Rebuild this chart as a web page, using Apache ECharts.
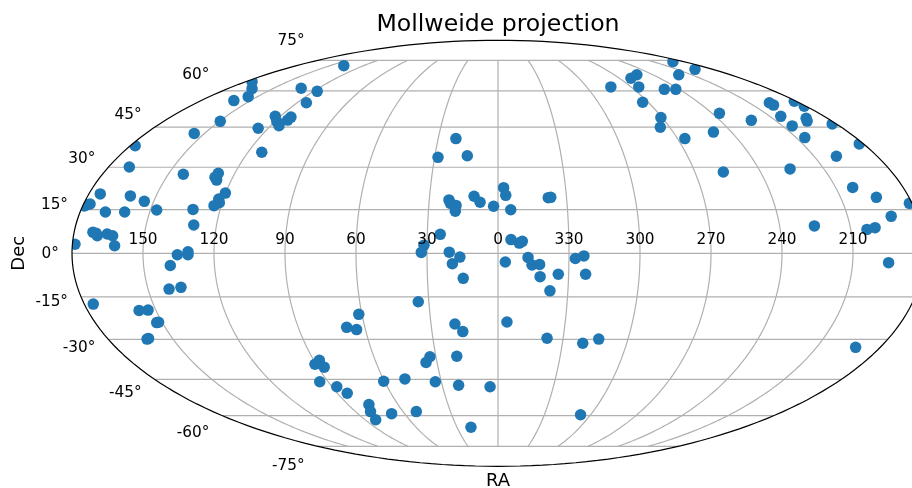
<!DOCTYPE html>
<html><head><meta charset="utf-8">
<style>html,body{margin:0;padding:0;background:#fff}#c{width:912px;height:488px}</style>
<script src="https://cdn.jsdelivr.net/npm/echarts@6/dist/echarts.min.js"></script>
</head><body><div id="c"></div>
<script>
const raDeg=[137.7,131.6,117.6,114.5,175.5,163.8,155.8,160.1,149.5,155.3,177.6,170.4,143.2,127.5,126.6,128.0,
113.4,125.2,122.9,118.9,115.6,113.9,113.8,175.0,161.3,154.1,178.4,177.2,169.1,160.8,147.3,131.7,
129.7,120.1,122.0,121.2,123.1,172.0,169.9,170.6,165.8,163.4,162.1,178.9,135.5,131.0,131.0,138.7,
135.7,141.0,176.1,157.4,153.4,152.5,151.6,162.0,161.1,34.6,61.4,68.2,64.0,19.3,16.0,356.0,337.4,
320.5,313.5,87.3,90.6,86.9,32.9,35.4,19.9,94.4,87.4,84.5,60.4,48.7,33.2,21.2,4.3,77.5,80.5,82.8,68.3,
51.6,306.5,19.8,21.1,28.4,14.6,357.5,356.6,21.4,20.7,18.2,18.4,10.5,7.8,1.9,354.5,338.0,336.9,24.5,
31.3,32.4,20.6,16.1,19.3,14.8,354.5,351.0,349.7,356.9,347.3,345.6,342.4,342.1,334.4,337.7,327.3,
323.7,322.8,191.0,194.8,219.9,252.4,261.4,264.7,283.6,249.9,242.3,273.3,270.7,274.9,266.3,249.3,
235.9,223.0,197.9,197.9,181.3,181.2,204.0,191.7,193.4,204.9,205.6,182.2,182.1,199.4,257.0,225.6,
202.4,194.3,181.2,179.3,191.3,225.2,203.1,199.5,194.8,191.6];
const decDeg=[72.1,61.2,59.8,54.9,64.2,61.0,57.5,55.8,47.3,42.6,37.9,30.1,27.5,27.8,25.4,26.4,35.5,44.6,49.3,
47.2,45.6,47.8,49.0,20.5,19.8,17.9,16.7,17.0,14.2,14.2,14.9,15.1,9.7,20.8,18.7,17.4,16.4,7.2,6.0,6.9,
6.6,6.0,2.6,3.1,-0.5,0.5,-0.5,-4.2,-11.7,-12.3,-17.5,-19.7,-19.6,-24.0,-23.9,-29.9,-29.7,-16.7,-21.1,
-25.7,-26.5,-24.5,-27.2,-23.8,-29.6,-31.4,-29.9,-37.7,-39.2,-40.3,-36.4,-38.5,-36.2,-45.9,-47.9,
-50.5,-45.7,-44.8,-45.9,-47.3,-47.9,-55.2,-58.2,-61.8,-59.1,-58.2,-59.6,-65.3,40.6,33.6,34.2,22.7,
20.0,18.4,17.2,16.5,14.5,19.7,17.6,16.2,15.0,19.2,19.3,6.5,2.8,0.3,0.4,-1.3,-3.6,-8.6,4.7,3.5,4.1,
-3.0,-1.4,-4.0,-3.8,-8.0,-7.2,-12.9,-1.8,-0.9,-7.2,74.2,70.2,67.5,67.5,65.8,61.8,61.8,60.7,60.7,55.1,
48.8,45.0,40.6,43.1,50.5,47.7,54.9,53.9,55.5,53.4,49.3,48.5,47.4,45.5,41.0,46.3,38.6,34.0,28.3,29.4,
22.8,19.3,17.2,16.3,12.7,9.4,8.2,8.8,-3.2,-32.9];
const raTicks=[150,120,90,60,30,0,330,300,270,240,210];
const decTicks=[75,60,45,30,15,0,-15,-30,-45,-60,-75];

const R2=Math.SQRT2;
function theta(dec){
  const p=dec*Math.PI/180;
  if(Math.abs(dec)>=90)return p;
  let t=p;
  for(let i=0;i<50;i++){t-=(2*t+Math.sin(2*t)-Math.PI*Math.sin(p))/(2+2*Math.cos(2*t));}
  return t;
}
function project(ra,dec){
  const lon=ra>180?ra-360:ra,t=theta(dec);
  return [-lon/180*2*R2*Math.cos(t),R2*Math.sin(t)];
}
const gridColor='#b0b0b0',font='"DejaVu Sans"';
function curve(fn){const o=[];for(let i=0;i<=240;i++)o.push(fn(i/240));return o;}
const lineBase={type:'line',symbol:'none',silent:true,animation:false,z:1,lineStyle:{color:gridColor,width:1.2}};
const series=[];
raTicks.forEach(r=>series.push(Object.assign({},lineBase,{data:curve(u=>project(r,-75+150*u))})));
decTicks.forEach(d=>series.push(Object.assign({},lineBase,{data:curve(u=>project(180-360*u,d))})));
series.push({type:'scatter',z:2,animation:false,silent:true,symbolSize:11.5,itemStyle:{color:'#1f77b4',opacity:1},
  data:raDeg.map((r,i)=>project(r,decDeg[i]))});
const rim=curve(u=>{const a=2*Math.PI*u;return [2*R2*Math.cos(a),R2*Math.sin(a)];});
series.push({type:'custom',z:3,silent:true,animation:false,coordinateSystem:'cartesian2d',clip:false,data:[[0,0]],
  renderItem:(p,api)=>{
    const W=api.getWidth()+40,H=api.getHeight()+40;
    const e=rim.map(q=>api.coord(q));
    const seam=[W,e[0][1]];
    const poly=[[-20,-20],[W,-20],seam].concat(e,[seam],[[W,H],[-20,H]]);
    return {type:'polygon',shape:{points:poly},style:{fill:'#fff',stroke:null}};
  }});
series.push({type:'line',z:4,symbol:'none',silent:true,animation:false,clip:false,lineStyle:{color:'#000',width:1.2},data:rim});
series.push({type:'scatter',z:5,symbolSize:0,silent:true,animation:false,clip:false,itemStyle:{opacity:1},
  data:raTicks.map(r=>({value:project(r,0),name:String(r)})),
  label:{show:true,position:'top',distance:6,formatter:'{b}',fontFamily:font,fontSize:15.3,color:'#000'}});
series.push({type:'scatter',z:5,symbolSize:0,silent:true,animation:false,clip:false,itemStyle:{opacity:1},
  data:decTicks.map(d=>({value:project(180,d),name:d+'°',
    label:{offset:[0,d>0?-d*0.25-1:Math.min(19.3,1-d*0.27)]}})),
  label:{show:true,position:'left',distance:13,formatter:'{b}',fontFamily:font,fontSize:15.3,color:'#000',align:'right',verticalAlign:'middle'}});

const hidden={axisLine:{show:false},axisTick:{show:false},axisLabel:{show:false},splitLine:{show:false}};
echarts.init(document.getElementById('c'),null,{renderer:'canvas'}).setOption({
  animation:false,backgroundColor:'#fff',
  title:{text:'Mollweide projection',left:493,top:8,textAlign:'center',textStyle:{fontFamily:font,fontSize:23.6,fontWeight:'normal',color:'#000'}},
  grid:{left:72,top:40.3,width:852,height:426,outerBoundsMode:'none'},
  xAxis:Object.assign({type:'value',min:-2*R2,max:2*R2,name:'RA',nameLocation:'middle',nameGap:6,z:10,nameTextStyle:{fontFamily:font,fontSize:18,color:'#000',verticalAlign:'top'}},hidden),
  yAxis:Object.assign({type:'value',min:-R2,max:R2,name:'Dec',nameLocation:'middle',nameGap:44,z:10,nameTextStyle:{fontFamily:font,fontSize:18,color:'#000'}},hidden),
  series
});
</script></body></html>
